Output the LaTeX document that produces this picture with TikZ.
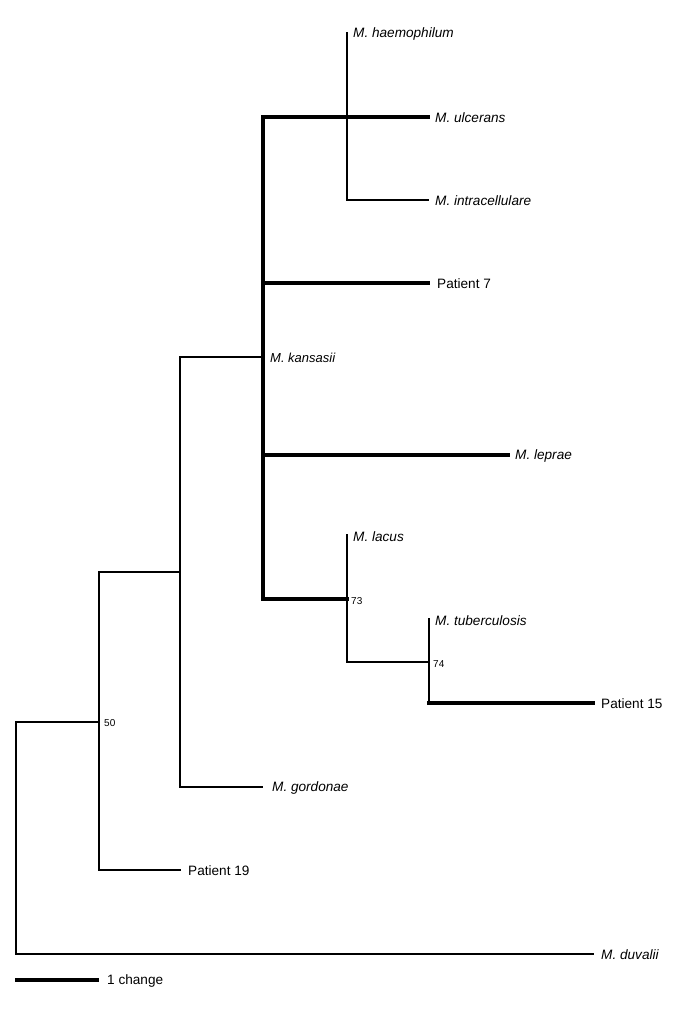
\documentclass[tikz,border=0pt]{standalone}
\usepackage{fontspec}
\setmainfont{Liberation Sans}
\begin{document}
\begin{tikzpicture}[x=1pt,y=-1pt,
  thinbr/.style={line width=2.1pt,line join=miter,line cap=rect},
  thickbr/.style={line width=3.4pt,line join=miter,line cap=rect},
  lab/.style={anchor=west,inner sep=0pt,font=\fontsize{13.6}{15}\selectfont},
  slab/.style={lab,font=\itshape\fontsize{13.6}{15}\selectfont},
  klab/.style={lab,font=\itshape\fontsize{13}{14}\selectfont},
  blab/.style={lab,font=\fontsize{10}{12}\selectfont}]
\useasboundingbox[fill=white] (0,0) rectangle (677,1016);
% internal nodes
\coordinate (root) at (16,838);
\coordinate (n50) at (99,722);
\coordinate (n180) at (180,572);
\coordinate (nk) at (263,357);
\coordinate (nu) at (347,117);
\coordinate (n73) at (347,599);
\coordinate (n74) at (429,662);
% branch ends
\coordinate (e-haem) at (347,33);
\coordinate (e-ulc) at (428,117);
\coordinate (e-intr) at (428,200);
\coordinate (e-p7) at (428,283);
\coordinate (e-lep) at (508,455);
\coordinate (e-lac) at (347,535);
\coordinate (e-tub) at (429,619);
\coordinate (e-p15) at (593,703);
\coordinate (e-gor) at (262,787);
\coordinate (e-p19) at (180,870);
\coordinate (e-duv) at (593,954);
\coordinate (s1) at (17,980);
\coordinate (s2) at (97,980);
% labels
\node[slab] (t-haem) at (353,34) {M. haemophilum};
\node[slab] (t-ulc) at (435,118) {M. ulcerans};
\node[slab] (t-intr) at (435,201) {M. intracellulare};
\node[lab] (t-p7) at (437,284) {Patient 7};
\node[klab] (t-kan) at (270,358) {M. kansasii};
\node[slab] (t-lep) at (515,456) {M. leprae};
\node[slab] (t-lac) at (353,537) {M. lacus};
\node[blab] (t-73) at (351,601) {73};
\node[slab] (t-tub) at (435,621) {M. tuberculosis};
\node[blab] (t-74) at (433,664) {74};
\node[lab] (t-p15) at (601,704) {Patient 15};
\node[blab] (t-50) at (104,723) {50};
\node[slab] (t-gor) at (272,788) {M. gordonae};
\node[lab] (t-p19) at (188,871) {Patient 19};
\node[slab] (t-duv) at (601,955) {M. duvalii};
\node[lab] (t-scale) at (107,981) {1 change};
% branches
\draw[thinbr] (root) |- (n50);
\draw[thinbr] (root) |- (e-duv);
\draw[thinbr] (n50) |- (n180);
\draw[thinbr] (n50) |- (e-p19);
\draw[thinbr] (n180) |- (nk);
\draw[thinbr] (n180) |- (e-gor);
\draw[thickbr] (nk) |- (nu);
\draw[thickbr] (nu) -- (e-ulc);
\draw[thickbr] (nk) |- (e-p7);
\draw[thickbr] (nk) |- (e-lep);
\draw[thickbr] (nk) |- (n73);
\draw[thinbr] (nu) -- (e-haem);
\draw[thinbr] (nu) |- (e-intr);
\draw[thinbr] (n73) -- (e-lac);
\draw[thinbr] (n73) |- (n74);
\draw[thinbr] (n74) -- (e-tub);
\draw[thinbr] (n74) |- (e-p15);
\draw[thickbr] (n74 |- e-p15) -- (e-p15);
\draw[thickbr] (s1) -- (s2);
\end{tikzpicture}
\end{document}
